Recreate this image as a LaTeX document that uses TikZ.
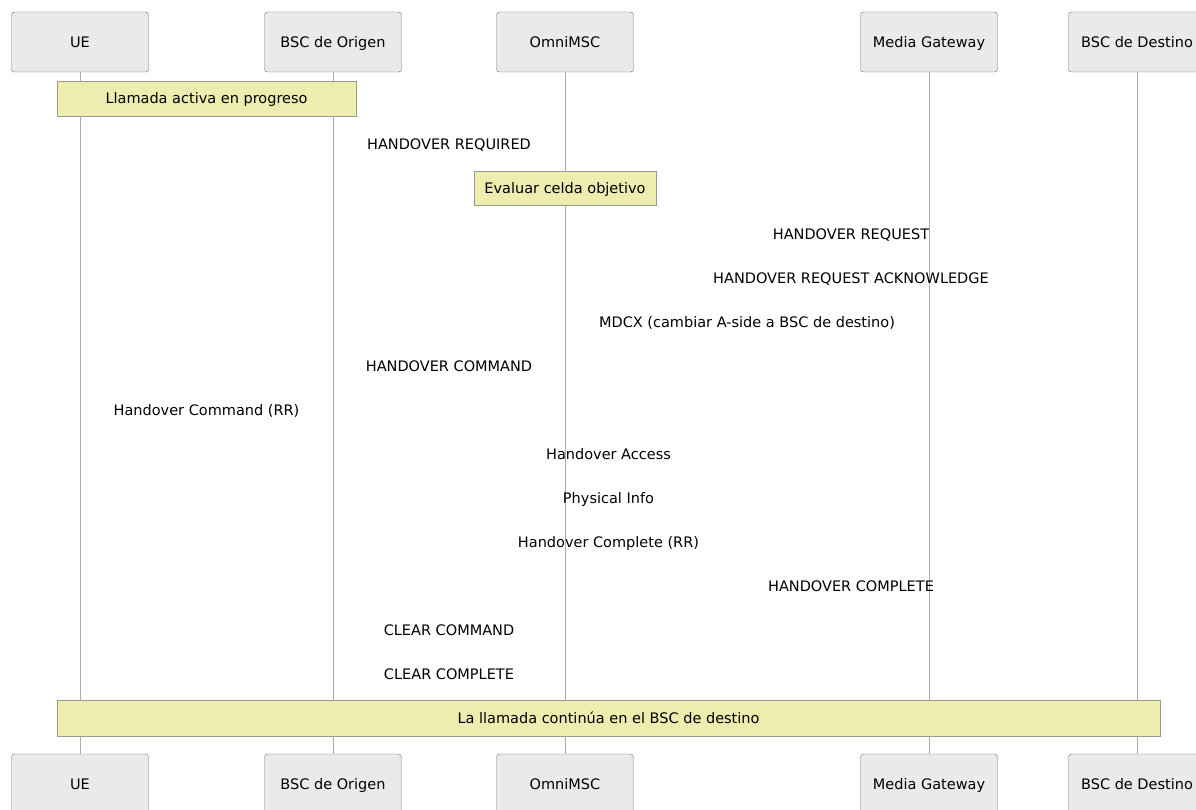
\documentclass[tikz,border=0pt]{standalone}
\usepackage{fontspec}
\setmainfont{DejaVu Sans}
\usetikzlibrary{positioning, calc}

\definecolor{actorfill}{HTML}{EAEAEA}
\definecolor{actorline}{HTML}{707070}
\definecolor{notefill}{HTML}{EDEDB0}
\definecolor{noteline}{HTML}{9A9A8A}
\definecolor{lifeline}{HTML}{ABABAB}

\begin{document}
\begin{tikzpicture}[
    x=1pt, y=-1pt,
    every node/.style={text height=10.6pt, text depth=0pt, font=\fontsize{14.5}{17}\selectfont},
    actor/.style={draw=actorline, fill=actorfill, rounded corners=3pt, minimum width=137pt, minimum height=60pt, align=center},
    note/.style={draw=noteline, fill=notefill, minimum height=35pt, align=center, inner sep=0pt},
    msg/.style={align=center, inner sep=1pt},
    life/.style={draw=lifeline, line width=0.9pt}
]
\useasboundingbox (0,0) rectangle (1196,810);
\clip (0,0) rectangle (1196,810);

% Participants (top)
\node[actor] (ue) at (80, 42) {UE};
\node[actor] (bsco) at (333, 42) {BSC de Origen};
\node[actor] (msc) at (565, 42) {OmniMSC};
\node[actor] (mgw) at (929, 42) {Media Gateway};
\node[actor] (bscd) at (1137, 42) {BSC de Destino};

% Participants (bottom)
\node[actor] (ueb) at (80, 784) {UE};
\node[actor] (bscob) at (333, 784) {BSC de Origen};
\node[actor] (mscb) at (565, 784) {OmniMSC};
\node[actor] (mgwb) at (929, 784) {Media Gateway};
\node[actor] (bscdb) at (1137, 784) {BSC de Destino};

% Lifelines
\draw[life] (ue) -- (ueb);
\draw[life] (bsco) -- (bscob);
\draw[life] (msc) -- (mscb);
\draw[life] (mgw) -- (mgwb);
\draw[life] (bscd) -- (bscdb);

% Notes
\node[note, minimum width=299pt] (activa) at (206.5, 98.5) {Llamada activa en progreso};
\node[note, minimum width=182pt, minimum height=34pt] (evaluar) at (565, 188) {Evaluar celda objetivo};
\node[note, minimum width=1103pt, minimum height=36pt] (continua) at (608.5, 718) {La llamada continúa en el BSC de destino};

% Messages
\node[msg] (horeq) at ($(bsco)!0.5!(msc) + (0,102)$) {HANDOVER REQUIRED};
\node[msg] (horequest) at ($(msc)!0.5!(bscd) + (0,192)$) {HANDOVER REQUEST};
\node[msg] (hoack) at ($(msc)!0.5!(bscd) + (0,236)$) {HANDOVER REQUEST ACKNOWLEDGE};
\node[msg] (mdcx) at ($(msc)!0.5!(mgw) + (0,280)$) {MDCX (cambiar A-side a BSC de destino)};
\node[msg] (hocmd) at ($(bsco)!0.5!(msc) + (0,324)$) {HANDOVER COMMAND};
\node[msg] (hocmdrr) at ($(ue)!0.5!(bsco) + (0,368)$) {Handover Command (RR)};
\node[msg] (hoaccess) at ($(ue)!0.5!(bscd) + (0,412)$) {Handover Access};
\node[msg] (physinfo) at ($(ue)!0.5!(bscd) + (0,456)$) {Physical Info};
\node[msg] (hocplrr) at ($(ue)!0.5!(bscd) + (0,500)$) {Handover Complete (RR)};
\node[msg] (hocpl) at ($(msc)!0.5!(bscd) + (0,544)$) {HANDOVER COMPLETE};
\node[msg] (clrcmd) at ($(bsco)!0.5!(msc) + (0,588)$) {CLEAR COMMAND};
\node[msg] (clrcpl) at ($(bsco)!0.5!(msc) + (0,632)$) {CLEAR COMPLETE};

\end{tikzpicture}
\end{document}
